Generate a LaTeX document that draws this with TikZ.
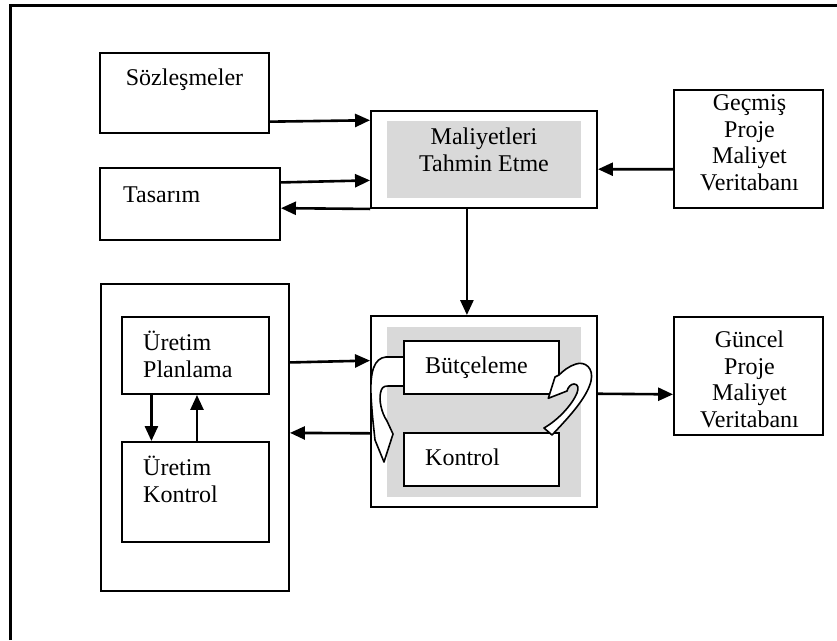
\documentclass[tikz,border=0pt]{standalone}
\usepackage{fontspec}
\setmainfont{Liberation Serif}
\usetikzlibrary{arrows.meta,calc}
\begin{document}
\begin{tikzpicture}[x=1pt,y=-1pt,
  box/.style={draw=black,line width=1.9pt,fill=white,inner sep=0pt},
  shade/.style={fill=black!15,draw=none,inner sep=0pt},
  lbl/.style={inner sep=0pt,font=\fontsize{24}{26.5}\selectfont},
  arr/.style={line width=2.6pt,-{Triangle[length=15pt,width=13pt]}},
  turn/.style={draw=black,line width=1.6pt,fill=white,line join=round}]
\useasboundingbox (0,0) rectangle (837,640);
% page frame (left and top edges)
\draw[line width=3pt] (10,640) -- (10,5) -- (837,5);

% boxes
\node[box,minimum width=169pt,minimum height=80pt] (soz) at (184.5,93) {};
\node[box,minimum width=180pt,minimum height=72pt] (tas) at (190,204) {};
\node[box,minimum width=226pt,minimum height=97pt] (mal) at (484,159.5) {};
\node[shade,minimum width=194pt,minimum height=77pt] (malin) at (484,159.5) {};
\node[box,minimum width=149pt,minimum height=118pt] (gec) at (748.5,149) {};
\node[box,minimum width=226pt,minimum height=191pt] (cen) at (484,411.5) {};
\node[shade,minimum width=194pt,minimum height=170pt] (cenin) at (484,412) {};
\node[box,minimum width=149pt,minimum height=118pt] (gun) at (748.5,376) {};
\node[box,minimum width=188pt,minimum height=307pt] (uret) at (195,437.5) {};
\node[box,minimum width=147pt,minimum height=77pt] (plan) at (195.5,355.5) {};
\node[box,minimum width=147pt,minimum height=100pt] (ukon) at (195.5,492) {};
\node[box,minimum width=155pt,minimum height=53pt] (but) at (481.5,367.5) {};
\node[box,minimum width=155pt,minimum height=53pt] (kon) at (481.5,459.5) {};

% curved arrows between budgeting and control, drawn over the boxes
\draw[turn] (404,357) -- (386,357) .. controls (374,358) and (370,372) .. (371,395)
  .. controls (372,415) and (374,430) .. (375,440) -- (384,462) -- (393,434)
  -- (387,421) .. controls (381,412) and (379,400) .. (380.5,393)
  .. controls (381.5,388) and (383,386) .. (388,386) -- (404,386) -- cycle;
\draw[turn] (552,435) .. controls (568,418) and (587,398) .. (591,381)
  .. controls (594,368) and (585,361) .. (576,364)
  .. controls (569,366) and (563,371) .. (559,375) -- (555,377) -- (548.3,398.3)
  -- (567,391) .. controls (568,387) and (571,384) .. (574,384)
  .. controls (578,384) and (579,388) .. (577,393)
  .. controls (572,405) and (558,420) .. (544,428) -- cycle;

% labels (multi-line labels sit on the baseline of their last line)
\node[lbl,anchor=base] (tsoz) at (184.5,85) {Sözleşmeler};
\node[lbl,anchor=base west] (ttas) at (123,202) {Tasarım};
\node[lbl,anchor=base,align=center] (tmal) at (484,171) {Maliyetleri\\Tahmin Etme};
\node[lbl,anchor=base,align=center] (tgec) at (749.5,190) {Geçmiş\\Proje\\Maliyet\\Veritabanı};
\node[lbl,anchor=base,align=center] (tgun) at (749.5,427) {Güncel\\Proje\\Maliyet\\Veritabanı};
\node[lbl,anchor=base west] (tbut) at (425,373) {Bütçeleme};
\node[lbl,anchor=base west] (tkon) at (425,465) {Kontrol};
\node[lbl,anchor=base west,align=left] (tplan) at (143,377) {Üretim\\Planlama};
\node[lbl,anchor=base west,align=left] (tukon) at (143,502) {Üretim\\Kontrol};

% connectors
\draw[arr] ($(soz.north east)!0.85!(soz.south east)$) -- ($(mal.north west)!0.103!(mal.south west)$);
\draw[arr] ($(tas.north east)!0.208!(tas.south east)$) -- ($(mal.north west)!0.711!(mal.south west)$);
\draw[arr] (mal.south west) -- ($(tas.north east)!0.556!(tas.south east)$);
\draw[arr] ($(gec.north west)!0.669!(gec.south west)$) -- ($(mal.north east)!0.598!(mal.south east)$);
\draw[arr] ($(mal.south west)!0.425!(mal.south east)$) -- ($(cen.north west)!0.425!(cen.north east)$);
\draw[arr] ($(uret.north east)!0.257!(uret.south east)$) -- ($(cen.north west)!0.236!(cen.south west)$);
\draw[arr] ($(cen.north west)!0.613!(cen.south west)$) -- ($(uret.north east)!0.485!(uret.south east)$);
\draw[arr] ($(cen.north east)!0.408!(cen.south east)$) -- ($(gun.north west)!0.653!(gun.south west)$);
\draw[arr] ($(plan.south west)!0.204!(plan.south east)$) -- ($(ukon.north west)!0.204!(ukon.north east)$);
\draw[arr] ($(ukon.north west)!0.51!(ukon.north east)$) -- ($(plan.south west)!0.51!(plan.south east)$);
\end{tikzpicture}
\end{document}
